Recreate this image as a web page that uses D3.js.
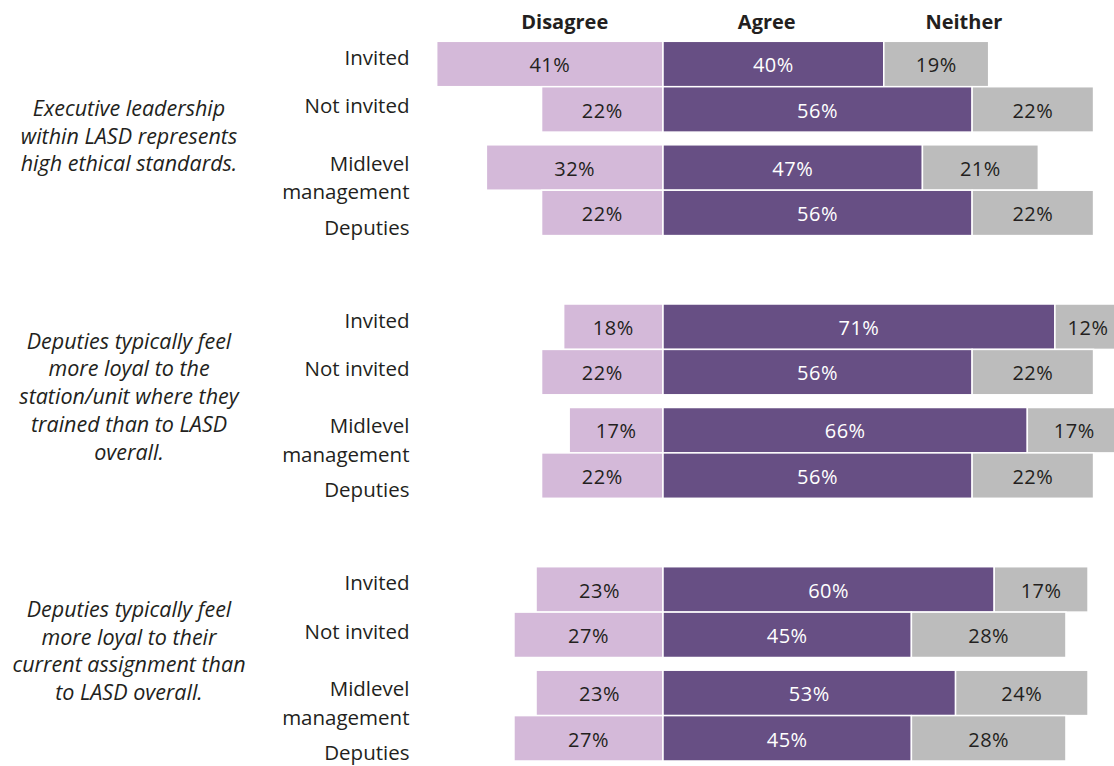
<!DOCTYPE html>
<html>
<head>
<meta charset="utf-8">
<script src="https://cdn.jsdelivr.net/npm/d3@7"></script>
<style>
  html, body { margin: 0; padding: 0; background: #fff; }
  svg { display: block; }
  text { font-family: "Open Sans", "Noto Sans", sans-serif; fill: #231f20; }
</style>
</head>
<body>
<svg id="chart" width="1114" height="766"></svg>
<script>
// ---- Data ----
const responses = ["Disagree", "Agree", "Neither"];
const respondentGroups = ["Invited", "Not invited", "Midlevel management", "Deputies"];
const questionLines = [
  ["Executive leadership", "within LASD represents", "high ethical standards."],
  ["Deputies typically feel", "more loyal to the", "station/unit where they", "trained than to LASD", "overall."],
  ["Deputies typically feel", "more loyal to their", "current assignment than", "to LASD overall."]
];
const disagree = [[41, 22, 32, 22], [18, 22, 17, 22], [23, 27, 23, 27]];
const agree    = [[40, 56, 47, 56], [71, 56, 66, 56], [60, 45, 53, 45]];
const neither  = [[19, 22, 21, 22], [12, 22, 17, 22], [17, 28, 24, 28]];

// ---- Layout / style ----
const colors = { Disagree: "#d4b9d9", Agree: "#674f84", Neither: "#bcbcbc" };
const textColors = { Disagree: "#231f20", Agree: "#ffffff", Neither: "#231f20" };
const pctSize = 20, headerSize = 20, labelSize = 20.5, questionSize = 21.5;

const svg = d3.select("#chart");

// x: percent scale, zero at the divergence line
const x = d3.scaleLinear().domain([-50, 100]).range([387, 1215]);
// y: group tops
const yGroup = d3.scaleLinear().domain([0, 1]).range([41.3, 304]);
const rowPitch = 45.4, pairGap = 12.7;
const rowTop = (g, r) => yGroup(g) + r * rowPitch + (r >= 2 ? pairGap : 0);

// Build segments
const segs = [];
questionLines.forEach((q, g) => {
  respondentGroups.forEach((rg, r) => {
    const d = disagree[g][r], a = agree[g][r], n = neither[g][r];
    segs.push({ g, r, key: "Disagree", v: d, x0: -d, x1: 0 });
    segs.push({ g, r, key: "Agree", v: a, x0: 0, x1: a });
    segs.push({ g, r, key: "Neither", v: n, x0: a, x1: a + n });
  });
});

const bars = svg.append("g");
bars.selectAll("rect").data(segs).join("rect")
  .attr("x", d => x(d.x0))
  .attr("y", d => rowTop(d.g, d.r))
  .attr("width", d => x(d.x1) - x(d.x0))
  .attr("height", rowPitch)
  .attr("fill", d => colors[d.key])
  .attr("stroke", "#fff")
  .attr("stroke-width", 1.5);

bars.selectAll("text").data(segs).join("text")
  .attr("x", d => (x(d.x0) + x(d.x1)) / 2)
  .attr("y", d => rowTop(d.g, d.r) + rowPitch / 2 + 1)
  .attr("dy", "0.36em")
  .attr("text-anchor", "middle")
  .style("font-size", pctSize + "px")
  .style("letter-spacing", "0.5px")
  .style("fill", d => textColors[d.key])
  .text(d => d.v + "%");

// Column headers
const headerPos = [-17.8, 18.8, 54.5];
svg.append("g").selectAll("text").data(responses).join("text")
  .attr("x", (d, i) => x(headerPos[i]))
  .attr("y", 29)
  .attr("text-anchor", "middle")
  .style("font-size", headerSize + "px")
  .style("font-weight", "bold")
  .text(d => d);

// Row labels (respondent groups)
const labelOffsets = [[16.2], [64.5], [122, 150.5], [186]];
const labelLines = respondentGroups.map(s => s === "Midlevel management" ? ["Midlevel", "management"] : [s]);
const rowLabels = [];
questionLines.forEach((q, g) => {
  labelLines.forEach((lines, r) => {
    lines.forEach((t, k) => rowLabels.push({ t, y: yGroup(g) + labelOffsets[r][k] }));
  });
});
svg.append("g").selectAll("text").data(rowLabels).join("text")
  .attr("x", 409.5)
  .attr("y", d => d.y)
  .attr("dy", "0.36em")
  .attr("text-anchor", "end")
  .style("font-size", labelSize + "px")
  .text(d => d.t);

// Question text
const questionFirstLine = [108, 340.8, 609];
const lineH = 27.8;
const qItems = [];
questionLines.forEach((lines, g) => lines.forEach((t, k) => qItems.push({ t, y: questionFirstLine[g] + k * lineH })));
svg.append("g").selectAll("text").data(qItems).join("text")
  .attr("x", 129)
  .attr("y", d => d.y)
  .attr("dy", "0.36em")
  .attr("text-anchor", "middle")
  .style("font-size", questionSize + "px")
  .style("font-style", "italic")
  .text(d => d.t);
</script>
</body>
</html>
